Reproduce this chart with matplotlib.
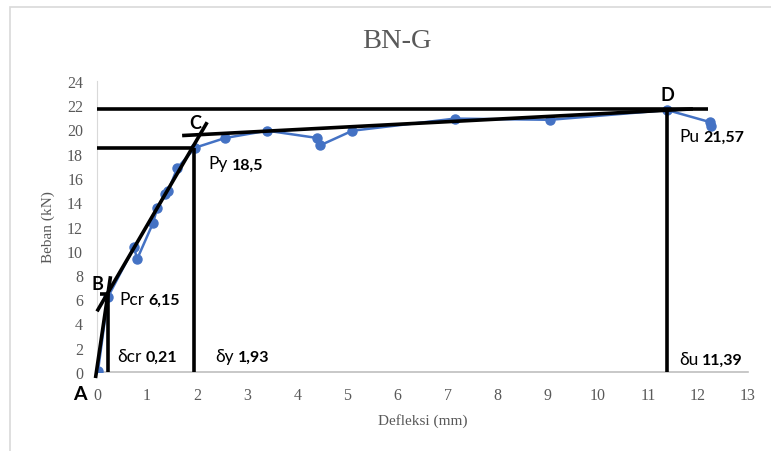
import matplotlib.pyplot as plt
from matplotlib.patches import Rectangle
from matplotlib.offsetbox import TextArea, HPacker, AnnotationBbox

# measured points (deflection mm, load kN)
defleksi = [0.02, 0.22, 0.74, 0.80, 1.12, 1.20, 1.36, 1.42, 1.60, 1.96,
            2.56, 3.40, 4.40, 4.46, 5.10, 7.15, 9.05, 11.39, 12.25, 12.27]
beban = [0.1, 6.2, 10.3, 9.3, 12.3, 13.5, 14.7, 14.9, 16.8, 18.5,
         19.3, 19.9, 19.3, 18.7, 19.9, 20.9, 20.8, 21.6, 20.6, 20.3]

# idealised (tri-linear) construction lines
line_ab_x = [-0.03, 0.27]
line_ab_y = [-0.5, 7.9]
line_bc_x = [0.0, 2.2]
line_bc_y = [5.0, 20.6]
line_cd_x = [1.7, 11.9]
line_cd_y = [19.5, 21.7]

# key values
d_cr, p_cr = 0.21, 6.15
d_y, p_y = 1.93, 18.5
d_u, p_u = 11.39, 21.57
p_top = 21.7
x_top_end = 12.2

xticks = list(range(0, 14))
yticks = list(range(0, 25, 2))

fig = plt.figure(figsize=(7.71, 4.52), dpi=100)
ax = fig.add_axes([97 / 771, 1 - 373 / 452, (748 - 97) / 771, (373 - 82) / 452])

# chart area border (Excel style)
fig.patches.append(Rectangle((10 / 771, -0.1), 1.2, 1.1 - 8 / 452,
                             transform=fig.transFigure, fill=False,
                             edgecolor='#d9d9d9', linewidth=1.2))

blue = '#4472C4'
ax.plot(defleksi, beban, color=blue, linewidth=1.8, marker='o',
        markersize=6.5, zorder=3)

black_kw = dict(color='black', linewidth=2.6, solid_capstyle='butt', clip_on=False, zorder=4)
ax.plot(line_ab_x, line_ab_y, **black_kw)
ax.plot(line_bc_x, line_bc_y, **black_kw)
ax.plot(line_cd_x, line_cd_y, **black_kw)
ax.plot([0, x_top_end], [p_top, p_top], **black_kw)
ax.plot([0, d_y], [p_y, p_y], **black_kw)
ax.plot([d_y, d_y], [0, p_y], **black_kw)
ax.plot([d_u, d_u], [0, p_top], **black_kw)
ax.plot([d_cr, d_cr], [0, 6.4], **black_kw)
ax.plot([0.06, d_cr], [6.4, 6.4], **black_kw)

ax.set_xlim(0, 13)
ax.set_ylim(0, 24)
ax.set_xticks(xticks)
ax.set_yticks(yticks)
for s in ['top', 'right']:
    ax.spines[s].set_visible(False)
ax.spines['left'].set_color('#d9d9d9')
ax.spines['bottom'].set_color('#bfbfbf')
ax.spines['bottom'].set_linewidth(1.2)
ax.tick_params(axis='x', length=0, labelsize=11.5, labelcolor='#595959', pad=11)
ax.tick_params(axis='y', length=0, labelsize=11.5, labelcolor='#595959', pad=10)
for lab in ax.get_xticklabels() + ax.get_yticklabels():
    lab.set_family('Liberation Serif')

ax.set_xlabel('Defleksi (mm)', family='Liberation Serif', fontsize=11,
              color='#595959', labelpad=7)
ax.set_ylabel('Beban (kN)', family='Liberation Serif', fontsize=11,
              color='#595959', labelpad=9)
fig.text(397 / 771, 1 - 42 / 452, 'BN-G', family='Liberation Serif',
         fontsize=20.5, color='#595959', ha='center', va='center')

# point letters
lab_font = 'Lato'
ax.text(-0.35, -1.8, 'A', family=lab_font, fontsize=14, fontweight='bold', ha='center', va='center')
ax.text(0.0, 7.3, 'B', family=lab_font, fontsize=13, fontweight='bold', ha='center', va='center')
ax.text(1.97, 20.6, 'C', family=lab_font, fontsize=13, fontweight='bold', ha='center', va='center')
ax.text(11.38, 22.9, 'D', family=lab_font, fontsize=13, fontweight='bold', ha='center', va='center')


def value_label(x, y, name, value):
    parts = [TextArea(name, textprops=dict(family=lab_font, fontsize=12.5)),
             TextArea(value, textprops=dict(family=lab_font, fontsize=11.5, fontweight='bold'))]
    box = HPacker(children=parts, align='baseline', pad=0, sep=3)
    ab = AnnotationBbox(box, (x, y), frameon=False, box_alignment=(0, 0.5),
                        annotation_clip=False, pad=0)
    ax.add_artist(ab)


value_label(2.22, 17.2, 'Py', f'{p_y}'.replace('.', ','))
value_label(0.44, 6.0, 'Pcr', f'{p_cr}'.replace('.', ','))
value_label(0.40, 1.3, 'δcr', f'{d_cr}'.replace('.', ','))
value_label(2.36, 1.3, 'δy', f'{d_y}'.replace('.', ','))
value_label(11.62, 1.1, 'δu', f'{d_u}'.replace('.', ','))
value_label(11.62, 19.5, 'Pu', f'{p_u}'.replace('.', ','))

fig.savefig('out.png', dpi=100)
